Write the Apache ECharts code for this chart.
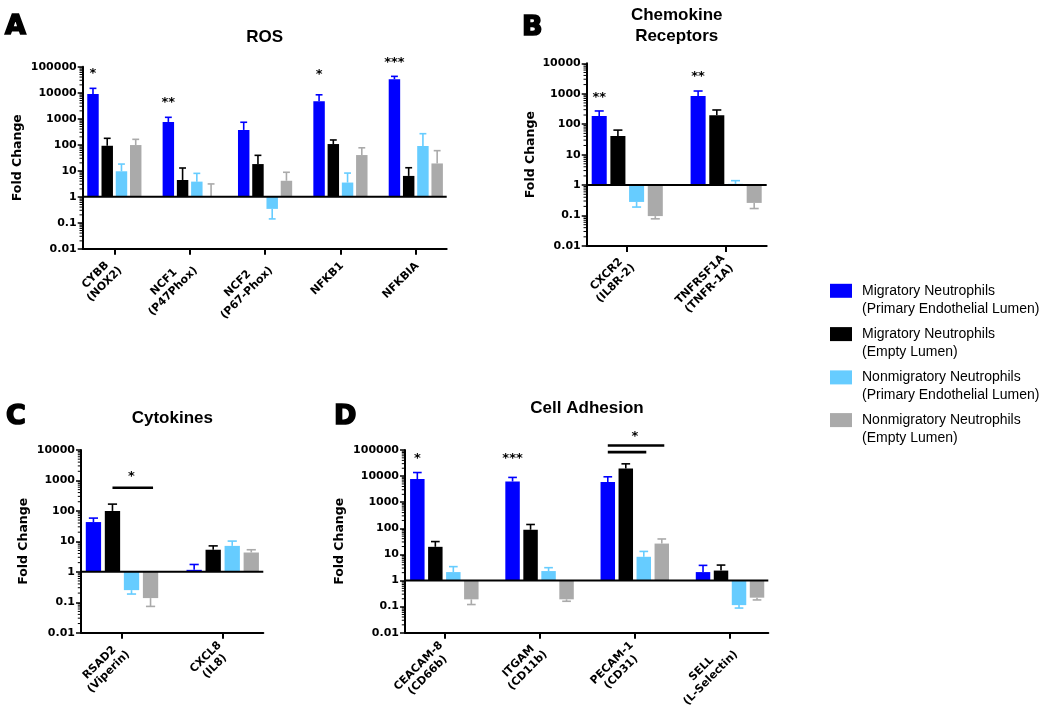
<!DOCTYPE html>
<html><head><meta charset="utf-8">
<script src="https://cdn.jsdelivr.net/npm/echarts@6/dist/echarts.min.js"></script>
<style>html,body{margin:0;padding:0;background:#fff}#chart{width:1050px;height:711px}</style>
</head><body><div id="chart"></div>
<script>
// ---------- data ----------
const groupNames = [
  'Migratory Neutrophils\n(Primary Endothelial Lumen)',
  'Migratory Neutrophils\n(Empty Lumen)',
  'Nonmigratory Neutrophils\n(Primary Endothelial Lumen)',
  'Nonmigratory Neutrophils\n(Empty Lumen)'
];
const groupColors = ['#0000FF', '#000000', '#66CCFF', '#AAAAAA'];

// Panel A - ROS (rows = groups, columns = genes)
const rosGenes = ['CYBB\n(NOX2)', 'NCF1\n(P47Phox)', 'NCF2\n(P67-Phox)', 'NFKB1', 'NFKBIA'];
const rosMean = [
  [8900, 750, 370, 4700, 33000],
  [91, 4.4, 18, 106, 6.3],
  [9.5, 3.8, 0.34, 3.5, 89],
  [97, 1.06, 4.1, 40, 19]
];
const rosErrEnd = [
  [14700, 1130, 730, 8300, 42500],
  [176, 12.7, 39, 152, 13],
  [18, 7.9, 0.14, 8.1, 265],
  [161, 3.1, 8.7, 76, 59]
];
const rosStars = [[0, 0, 68000, '*'], [1, 0, 5200, '**'], [3, 0, 64000, '*'], [4, 0, 180000, '***']];
const rosSigLines = [];

// Panel B - Chemokine receptors
const chemoGenes = ['CXCR2\n(IL8R-2)', 'TNFRSF1A\n(TNFR-1A)'];
const chemoMean = [[186, 850], [41, 195], [0.28, 1.1], [0.096, 0.26]];
const chemoErrEnd = [[272, 1230], [64, 293], [0.19, 1.4], [0.078, 0.17]];
const chemoStars = [[0, 0, 930, '**'], [1, 0, 4600, '**']];
const chemoSigLines = [];

// Panel C - Cytokines
const cytoGenes = ['RSAD2\n(Viperin)', 'CXCL8\n(IL8)'];
const cytoMean = [[43, 1.16], [100, 5.3], [0.25, 7.1], [0.137, 4.3]];
const cytoErrEnd = [[58, 1.74], [167, 7.1], [0.186, 10.2], [0.073, 5.3]];
const cytoStars = [[0, 2, 1740, '*']];
const cytoSigLines = [[0, 1, 3, 575]];

// Panel D - Cell adhesion
const adhGenes = ['CEACAM-8\n(CD66b)', 'ITGAM\n(CD11b)', 'PECAM-1\n(CD31)', 'SELL\n(L-Selectin)'];
const adhMean = [[7700, 6200, 5900, 2.1], [19.5, 88, 19500, 2.4], [2.1, 2.3, 8.1, 0.114], [0.19, 0.19, 26, 0.22]];
const adhErrEnd = [[13700, 8900, 9400, 3.8], [31, 140, 29500, 3.9], [3.4, 3.1, 13, 0.088], [0.12, 0.16, 39, 0.18]];
const adhStars = [[0, 0, 61000, '*'], [1, 0, 61000, '***'], [2, 1.5, 407000, '*']];
const adhSigLines = [[2, 0, 3, 148000], [2, 0, 2, 83000]];

// ---------- layout ----------
const BAR_PITCH = 0.189;   // distance between bars in a cluster (category units)
const BAR_WIDTH = 0.152;   // bar width (category units)
const AXIS_FONT = '"DejaVu Sans"';
const TITLE_FONT = '"Liberation Sans"';

const panels = [
  {genes: rosGenes, mean: rosMean, err: rosErrEnd, stars: rosStars, sig: rosSigLines, yMax: 100000, split: 7,
   grid: {left: 82.7, top: 66.7, width: 364, height: 182}, xMin: -0.42, xMax: 4.41, nameGap: 58,
   title: 'ROS', titleX: 264.7, titleY: 37.2, letter: 'A', letterX: 5, letterY: 27},
  {genes: chemoGenes, mean: chemoMean, err: chemoErrEnd, stars: chemoStars, sig: chemoSigLines, yMax: 10000, split: 6,
   grid: {left: 586.7, top: 63.3, width: 180, height: 182.7}, xMin: -0.41, xMax: 1.41, nameGap: 49,
   title: 'Chemokine\nReceptors', titleX: 676.7, titleY: 25.7, letter: 'B', letterX: 522, letterY: 28},
  {genes: cytoGenes, mean: cytoMean, err: cytoErrEnd, stars: cytoStars, sig: cytoSigLines, yMax: 10000, split: 6,
   grid: {left: 81, top: 450, width: 182.3, height: 182.7}, xMin: -0.407, xMax: 1.403, nameGap: 50.5,
   title: 'Cytokines', titleX: 172.3, titleY: 418.5, letter: 'C', letterX: 6, letterY: 416.5},
  {genes: adhGenes, mean: adhMean, err: adhErrEnd, stars: adhStars, sig: adhSigLines, yMax: 100000, split: 7,
   grid: {left: 405, top: 450, width: 363.3, height: 182.7}, xMin: -0.413, xMax: 3.402, nameGap: 59,
   title: 'Cell Adhesion', titleX: 587, titleY: 408.5, letter: 'D', letterX: 334, letterY: 416.8}
];

function slotX(cat, slot) { return cat + (slot - 1.5) * BAR_PITCH; }

function makeBarRenderer(g) {
  return function (params, api) {
    const i = api.value(0), m = api.value(1), e = api.value(2);
    const p0 = api.coord([i, 1]);
    const p1 = api.coord([i + 1, 1]);
    const unit = p1[0] - p0[0];
    const xc = api.coord([slotX(i, g), 1])[0];
    const bw = unit * BAR_WIDTH;
    const yBase = p0[1];
    const yTop = api.coord([i, m])[1];
    const yErr = api.coord([i, e])[1];
    const color = api.visual('color');
    const cap = bw * 0.6;
    return {type: 'group', children: [
      {type: 'rect', shape: {x: xc - bw / 2, y: Math.min(yBase, yTop), width: bw, height: Math.abs(yTop - yBase)}, style: {fill: color}},
      {type: 'line', shape: {x1: xc, y1: yTop, x2: xc, y2: yErr}, style: {stroke: color, lineWidth: 1.6}},
      {type: 'line', shape: {x1: xc - cap / 2, y1: yErr, x2: xc + cap / 2, y2: yErr}, style: {stroke: color, lineWidth: 1.6}}
    ]};
  };
}

function fmtY(v) { return v >= 1 ? String(Math.round(v)) : String(+v.toPrecision(1)); }

const grids = [], xAxes = [], yAxes = [], series = [], graphics = [];

panels.forEach((P, p) => {
  grids.push(Object.assign({outerBoundsMode: 'none', containLabel: false}, P.grid));
  const idx = P.genes.map((_, i) => i);
  const richLabels = P.genes.map(s => s.split('\n').map(l => '{c|' + l + '}').join('\n'));
  xAxes.push({
    type: 'value', gridIndex: p, min: P.xMin, max: P.xMax,
    axisLine: {show: true, onZero: false, lineStyle: {color: '#000', width: 2}},
    axisTick: {show: true, customValues: idx, length: 6, lineStyle: {color: '#000', width: 2}},
    axisLabel: {
      show: true, customValues: idx, rotate: 45, margin: 14, color: '#000', padding: [4, 0, 0, 0],
      fontFamily: AXIS_FONT, fontWeight: 'bold', fontSize: 11,
      formatter: v => richLabels[Math.round(v)],
      rich: {c: {align: 'center', fontFamily: AXIS_FONT, fontWeight: 'bold', fontSize: 11, lineHeight: 13, color: '#000'}}
    },
    splitLine: {show: false}
  });
  yAxes.push({
    type: 'log', logBase: 10, gridIndex: p, min: 0.01, max: P.yMax, splitNumber: P.split,
    name: 'Fold Change', nameLocation: 'middle', nameGap: P.nameGap,
    nameTextStyle: {fontFamily: AXIS_FONT, fontWeight: 'bold', fontSize: 12.5, color: '#000'},
    axisLine: {show: true, onZero: false, lineStyle: {color: '#000', width: 2}},
    axisTick: {show: true, length: 5, lineStyle: {color: '#000', width: 1.5}},
    axisLabel: {show: true, margin: 6, color: '#000', fontFamily: AXIS_FONT, fontWeight: 'bold', fontSize: 11, formatter: fmtY},
    splitLine: {show: false}
  });

  // bars + error bars
  for (let g = 0; g < 4; g++) {
    series.push({
      type: 'custom', name: groupNames[g], xAxisIndex: p, yAxisIndex: p,
      itemStyle: {color: groupColors[g]}, clip: false, z: 2, silent: true,
      encode: {x: 0, y: 1},
      data: P.mean[g].map((m, i) => [i, m, P.err[g][i]]),
      renderItem: makeBarRenderer(g)
    });
  }

  // log minor ticks on the y axis
  const minor = [];
  for (let k = -2; k < Math.log10(P.yMax); k++) for (let d = 2; d <= 9; d++) minor.push([P.xMin, d * Math.pow(10, k)]);
  series.push({
    type: 'custom', name: 'minorTicks' + p, xAxisIndex: p, yAxisIndex: p, clip: false, silent: true, z: 3,
    data: minor,
    renderItem: (params, api) => {
      const pt = api.coord([api.value(0), api.value(1)]);
      return {type: 'line', shape: {x1: pt[0] - 3.2, y1: pt[1], x2: pt[0], y2: pt[1]}, style: {stroke: '#000', lineWidth: 1}};
    }
  });

  // baseline at fold change = 1
  series.push({
    type: 'custom', name: 'baseline' + p, xAxisIndex: p, yAxisIndex: p, clip: false, silent: true, z: 6,
    data: [[P.xMin, 1, P.xMax]],
    renderItem: (params, api) => {
      const a = api.coord([api.value(0), api.value(1)]);
      const b = api.coord([api.value(2), api.value(1)]);
      return {type: 'line', shape: {x1: a[0], y1: a[1], x2: b[0], y2: b[1]}, style: {stroke: '#000', lineWidth: 2}};
    }
  });

  // significance stars
  series.push({
    type: 'custom', name: 'stars' + p, xAxisIndex: p, yAxisIndex: p, clip: false, silent: true, z: 6,
    data: P.stars.map(s => [slotX(s[0], s[1]), s[2]]),
    renderItem: (params, api) => {
      const pt = api.coord([api.value(0), api.value(1)]);
      return {type: 'text', x: pt[0], y: pt[1] + 3, style: {
        text: P.stars[params.dataIndex][3], fill: '#000', align: 'center', verticalAlign: 'middle',
        fontFamily: AXIS_FONT, fontWeight: 'bold', fontSize: 13}};
    }
  });

  // significance lines
  if (P.sig.length) {
    series.push({
      type: 'custom', name: 'sig' + p, xAxisIndex: p, yAxisIndex: p, clip: false, silent: true, z: 6,
      data: P.sig.map(s => [slotX(s[0], s[1]), s[3], slotX(s[0], s[2])]),
      renderItem: (params, api) => {
        const a = api.coord([api.value(0), api.value(1)]);
        const b = api.coord([api.value(2), api.value(1)]);
        return {type: 'line', shape: {x1: a[0], y1: a[1], x2: b[0] + 2.5, y2: b[1]}, style: {stroke: '#000', lineWidth: 2.6}};
      }
    });
  }

  graphics.push({type: 'text', x: P.titleX, y: P.titleY, silent: true, style: {
    text: P.title, fill: '#000', align: 'center', verticalAlign: 'middle', lineHeight: 21,
    fontFamily: TITLE_FONT, fontWeight: 'bold', fontSize: 17}});
  graphics.push({type: 'text', x: P.letterX, y: P.letterY, silent: true, style: {
    text: P.letter, fill: '#000', stroke: '#000', lineWidth: 1.6, align: 'left', verticalAlign: 'middle',
    fontFamily: AXIS_FONT, fontWeight: 'bold', fontSize: 27}});
});

const legendIconCenters = [290.8, 334.1, 377.4, 420.1];
const LEG_LH = 18.2;
const legends = groupNames.map((n, g) => ({
  data: [n], orient: 'vertical', left: 830, top: legendIconCenters[g] - 1.5 * LEG_LH,
  padding: 0, itemWidth: 22, itemHeight: 14, icon: 'rect', selectedMode: false,
  formatter: name => '\n' + name,
  textStyle: {fontFamily: TITLE_FONT, fontSize: 14, color: '#000', lineHeight: LEG_LH, padding: [0, 0, 0, 5]}
}));

const chart = echarts.init(document.getElementById('chart'), null, {renderer: 'canvas'});
chart.setOption({
  animation: false,
  backgroundColor: '#fff',
  grid: grids, xAxis: xAxes, yAxis: yAxes, series: series,
  legend: legends, graphic: graphics
});
</script></body></html>
